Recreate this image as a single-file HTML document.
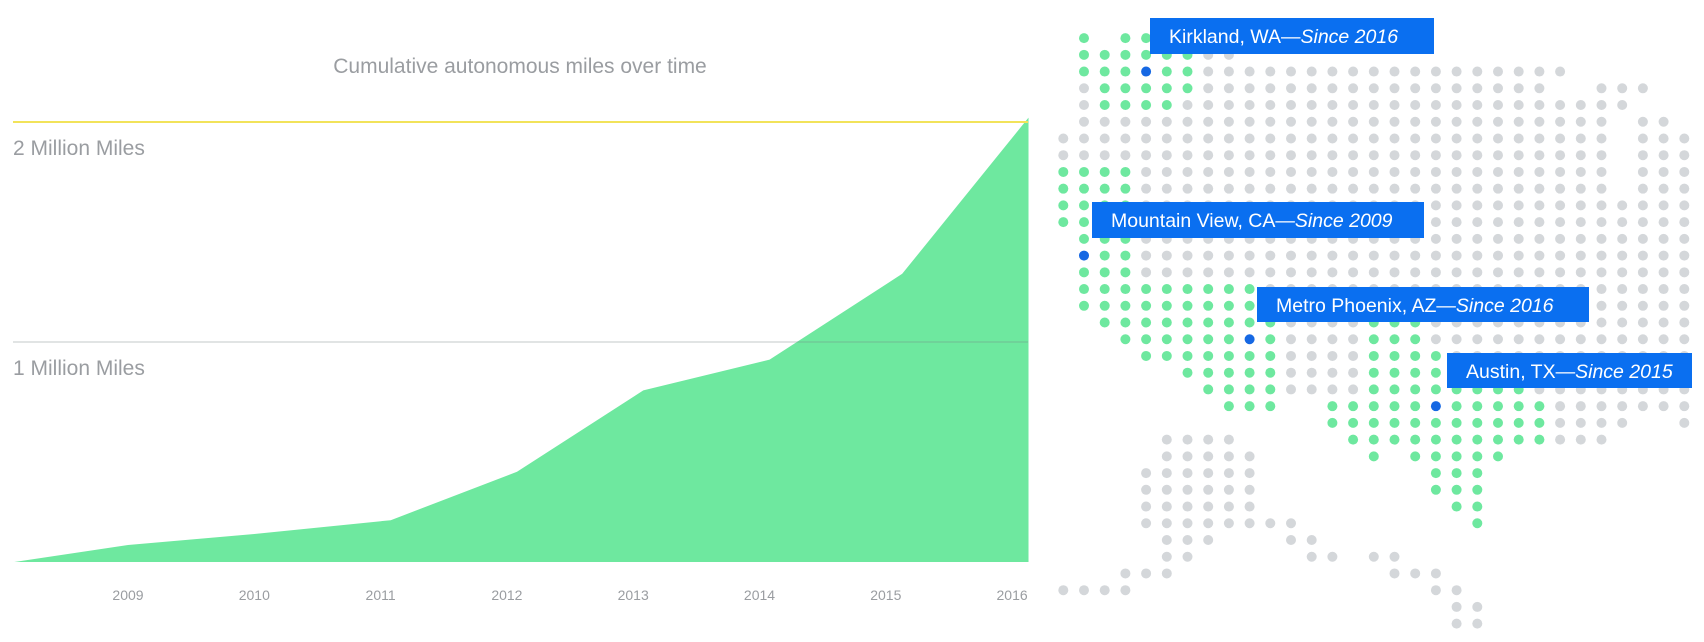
<!DOCTYPE html>
<html><head><meta charset="utf-8"><style>
html,body{margin:0;padding:0;background:#fff;}
svg{display:block;font-family:"Liberation Sans",sans-serif;}
</style></head><body>
<svg id="root" width="1704" height="642" viewBox="0 0 1704 642">
  <text x="520" y="73" text-anchor="middle" font-size="21" fill="#9a9da1">Cumulative autonomous miles over time</text>
  <g id="chart"></g>
  <g id="map"></g>
  <g id="labels"></g>
</svg>
<script>
// ---- chart data ----
const years = [2008.1, 2009, 2010, 2011.08, 2012.08, 2013.08, 2014.08, 2015.13, 2016.13];
const miles = [0, 0.077, 0.127, 0.19, 0.41, 0.78, 0.92, 1.31, 2.02]; // millions
const yTicks = [1, 2];
const yTickLabels = ["1 Million Miles", "2 Million Miles"];
const xTicks = [2009, 2010, 2011, 2012, 2013, 2014, 2015, 2016];
const xTickLabels = ["2009", "2010", "2011", "2012", "2013", "2014", "2015", "2016"];

// ---- map data: [row, startCol, endCol, type] g=green o=gray b=blue ----
const mapRows = [
[0,1,1,'g'],[0,3,4,'g'],
[1,1,6,'g'],[1,7,8,'o'],
[2,1,3,'g'],[2,4,4,'b'],[2,5,6,'g'],[2,7,24,'o'],
[3,1,1,'o'],[3,2,6,'g'],[3,7,23,'o'],[3,26,28,'o'],
[4,1,1,'o'],[4,2,5,'g'],[4,6,27,'o'],
[5,1,26,'o'],[5,28,29,'o'],
[6,0,26,'o'],[6,28,30,'o'],
[7,0,26,'o'],[7,28,30,'o'],
[8,0,3,'g'],[8,4,26,'o'],[8,28,30,'o'],
[9,0,3,'g'],[9,4,26,'o'],[9,28,30,'o'],
[10,0,3,'g'],[10,4,30,'o'],
[11,0,3,'g'],[11,4,30,'o'],
[12,1,3,'g'],[12,4,30,'o'],
[13,1,1,'b'],[13,2,3,'g'],[13,4,30,'o'],
[14,1,3,'g'],[14,4,30,'o'],
[15,1,9,'g'],[15,10,30,'o'],
[16,1,9,'g'],[16,10,30,'o'],
[17,2,10,'g'],[17,11,14,'o'],[17,15,17,'g'],[17,18,30,'o'],
[18,3,8,'g'],[18,9,9,'b'],[18,10,10,'g'],[18,11,14,'o'],[18,15,17,'g'],[18,18,30,'o'],
[19,4,10,'g'],[19,11,14,'o'],[19,15,18,'g'],[19,19,30,'o'],
[20,6,10,'g'],[20,11,14,'o'],[20,15,18,'g'],[20,19,30,'o'],
[21,7,10,'g'],[21,11,14,'o'],[21,15,22,'g'],[21,23,30,'o'],
[22,8,10,'g'],[22,13,17,'g'],[22,18,18,'b'],[22,19,23,'g'],[22,24,30,'o'],
[23,13,23,'g'],[23,24,27,'o'],[23,30,30,'o'],
[24,5,8,'o'],[24,14,23,'g'],[24,24,26,'o'],
[25,5,9,'o'],[25,15,15,'g'],[25,17,21,'g'],
[26,4,9,'o'],[26,18,20,'g'],
[27,4,9,'o'],[27,18,20,'g'],
[28,4,9,'o'],[28,19,20,'g'],
[29,4,11,'o'],[29,20,20,'g'],
[30,5,7,'o'],[30,11,12,'o'],
[31,5,6,'o'],[31,12,13,'o'],[31,15,16,'o'],
[32,3,5,'o'],[32,16,18,'o'],
[33,0,3,'o'],[33,18,19,'o'],
[34,19,20,'o'],
[35,19,20,'o']
];
const locationNames = ["Kirkland, WA—", "Mountain View, CA—", "Metro Phoenix, AZ—", "Austin, TX—"];
const locationSince = ["Since 2016", "Since 2009", "Since 2016", "Since 2015"];

const NS = "http://www.w3.org/2000/svg";
function mk(tag, attrs, parent){const e=document.createElementNS(NS,tag);for(const k in attrs)e.setAttribute(k,attrs[k]);parent.appendChild(e);return e;}

// axis functions
const xScale = yr => 128 + (yr - 2009) * 126.3;
const yScale = v => 562 - v * 220;

const chart = document.getElementById('chart');
// area
let d = `M${xScale(years[0])},${yScale(0)}`;
years.forEach((yr,i)=>{ d += ` L${xScale(yr)},${yScale(miles[i])}`; });
d += ` L${xScale(years[years.length-1])},${yScale(0)} Z`;
const area = mk('path',{d:d,fill:'#6ee89f'},chart);


// gridlines
yTicks.forEach((t,i)=>{
  const yy = yScale(t);
  const ln = mk('line',{x1:13,x2:1028,y1:yy,y2:yy,stroke: i===1?'#f2e35a':'rgba(120,130,130,0.22)','stroke-width':2},chart);
  
  
  const tx = mk('text',{x:13,y:yy+33,'font-size':21,fill:'#9a9da1'},chart);
  tx.textContent = yTickLabels[i];
  
  
});
xTicks.forEach((t,i)=>{
  const tx = mk('text',{x:xScale(t),y:600,'font-size':14,fill:'#9a9da1','text-anchor':'middle'},chart);
  tx.textContent = xTickLabels[i];
  
  
});

// map
const map = document.getElementById('map');
const colX = c => 1063.3 + c * 20.7;
const rowY = r => 38.1 + r * 16.73;
const colors = {g:'#6ee89f', o:'#d4d7da', b:'#1668e3'};
mapRows.forEach(seg=>{
  for(let c=seg[1]; c<=seg[2]; c++){
    const dot = mk('circle',{cx:colX(c),cy:rowY(seg[0]),r:5,fill:colors[seg[3]]},map);
    
    
  }
});

// labels
const labels = document.getElementById('labels');
const boxes = [[1150,18,284,36],[1092,202,332,36],[1257,287,332,35],[1447,353,245,35]];
boxes.forEach((b,i)=>{
  const g = mk('g',{},labels);
  
  
  mk('rect',{x:b[0],y:b[1],width:b[2],height:b[3],fill:'#0a6ff0'},g);
  const t = mk('text',{x:b[0]+19,y:b[1]+25,'font-size':19.5,fill:'#fff'},g);
  const s1 = mk('tspan',{},t); s1.textContent = locationNames[i];
  const s2 = mk('tspan',{'font-style':'italic'},t); s2.textContent = locationSince[i];
});
</script>
</body></html>
